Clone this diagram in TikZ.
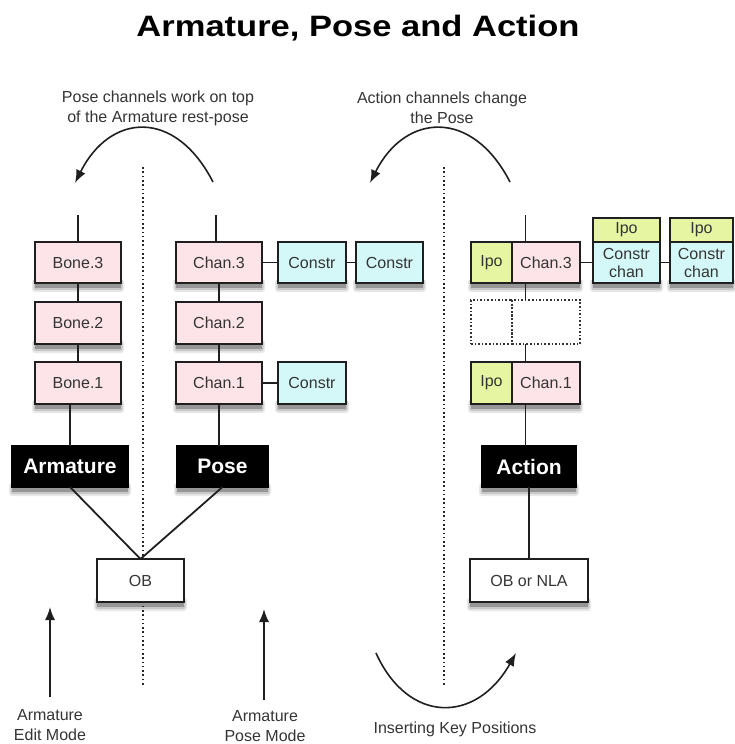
\documentclass[tikz,border=0pt]{standalone}
\usepackage{fontspec}
\setmainfont{Liberation Sans}
\newfontfamily\titlefont{Liberation Sans}[FakeStretch=1.17]
\usetikzlibrary{arrows.meta,fit}
\definecolor{chanpink}{RGB}{252,228,233}
\definecolor{constrcyan}{RGB}{212,248,248}
\definecolor{ipogreen}{RGB}{229,245,162}
\definecolor{inkgray}{RGB}{52,52,52}
\definecolor{shadefar}{RGB}{232,232,232}
\definecolor{shadenear}{RGB}{200,200,200}
\definecolor{shadecore}{RGB}{150,150,150}

\begin{document}
\begin{tikzpicture}[x=1pt,y=-1pt,
  every node/.style={inner sep=0pt, outer sep=0pt},
  labeltext/.style={text=inkgray, font=\fontsize{16}{20}\selectfont, align=center},
  cell/.style={draw=black!88, line width=2pt, labeltext, font=\fontsize{16}{18}\selectfont},
  pinkcell/.style={cell, fill=chanpink},
  cyancell/.style={cell, fill=constrcyan},
  ipocell/.style={cell, fill=ipogreen},
  plaincell/.style={cell, fill=white},
  blackcell/.style={draw=black, fill=black, line width=1.5pt, text=white,
      font=\bfseries\fontsize{21}{24}\selectfont},
  ghostcell/.style={draw=black!80, line width=1.7pt, dash pattern=on 1.6pt off 2pt},
  wire/.style={draw=black!88, line width=1.8pt},
  divider/.style={draw=black!85, line width=1.8pt, dash pattern=on 1.6pt off 2.7pt},
  arrow/.style={draw=black!88, line width=1.6pt, -{Latex[length=13pt,width=10pt]}},
]
\useasboundingbox (0,0) rectangle (734,744);

% soft drop shadow under a box given by its corners (left,top) and (right,bottom)
\newcommand{\boxshadow}[4]{%
  \fill[shadefar, rounded corners=3pt] (#1-3,#4-4) rectangle (#3+3,#4+9);
  \fill[shadenear, rounded corners=2pt] (#1-1.5,#4-4) rectangle (#3+1.5,#4+7);
  \fill[shadecore] (#1,#4-4) rectangle (#3,#4+5);}

\boxshadow{35}{242}{121}{283}
\boxshadow{35}{302}{121}{344}
\boxshadow{35}{362}{121}{404}
\boxshadow{12}{446}{128}{487}
\boxshadow{176}{242}{262}{283}
\boxshadow{176}{302}{262}{344}
\boxshadow{176}{362}{262}{404}
\boxshadow{278}{242}{346}{283}
\boxshadow{356}{242}{423}{283}
\boxshadow{278}{362}{346}{404}
\boxshadow{177}{446}{268}{487}
\boxshadow{97}{559}{184}{602}
\boxshadow{471}{242}{580}{283}
\boxshadow{471}{362}{580}{404}
\boxshadow{593}{218}{660}{283}
\boxshadow{670}{218}{733}{283}
\boxshadow{482}{446}{576}{487}
\boxshadow{470}{559}{588}{602}

% title
\node[anchor=base, font=\titlefont\bfseries\fontsize{29.5}{34}\selectfont] (title) at (358,36) {Armature, Pose and Action};

% mode dividers
\coordinate (d1t) at (143,167); \coordinate (d1b) at (143,685);
\coordinate (d2t) at (444,167); \coordinate (d2b) at (444,685);
\draw[divider] (d1t) -- (d1b);
\draw[divider] (d2t) -- (d2b);

% --- armature column ---
\node[pinkcell, minimum width=86, minimum height=41] (b3) at (78,262.5) {Bone.3};
\node[pinkcell, minimum width=86, minimum height=42] (b2) at (78,323) {Bone.2};
\node[pinkcell, minimum width=86, minimum height=42] (b1) at (78,383) {Bone.1};
\node[blackcell, minimum width=116, minimum height=41] (arm) at (70,466.5) {Armature};
\coordinate (btop) at (78,215);
\draw[wire] (btop) -- (b3.north);
\draw[wire] (b3) -- (b2);
\draw[wire] (b2) -- (b1);
\draw[wire] (b1.south -| arm.north) -- (arm.north);

% --- pose column ---
\node[pinkcell, minimum width=86, minimum height=41] (c3) at (219,262.5) {Chan.3};
\node[pinkcell, minimum width=86, minimum height=42] (c2) at (219,323) {Chan.2};
\node[pinkcell, minimum width=86, minimum height=42] (c1) at (219,383) {Chan.1};
\node[cyancell, minimum width=68, minimum height=41] (k3a) at (312,262.5) {Constr};
\node[cyancell, minimum width=67, minimum height=41] (k3b) at (389.5,262.5) {Constr};
\node[cyancell, minimum width=68, minimum height=42] (k1) at (312,383) {Constr};
\node[blackcell, minimum width=91, minimum height=41] (pose) at (222.5,466.5) {Pose};
\coordinate (ctop) at (216,215);
\draw[wire] (ctop) -- (ctop |- c3.north);
\draw[wire] (c3) -- (c2);
\draw[wire] (c2) -- (c1);
\draw[wire] (c1.south) -- (c1.south |- pose.north);
\draw[wire] (c3) -- (k3a);
\draw[wire] (k3a) -- (k3b);
\draw[wire] (c1) -- (k1);

% object
\node[plaincell, minimum width=87, minimum height=43] (ob) at (140.5,580.5) {OB};
\draw[wire] (arm.south) -- (ob.north);
\draw[wire] (pose.south) -- (ob.north);

% --- action column ---
\node[ipocell, minimum width=41, minimum height=41] (i3) at (491.5,262.5) {Ipo};
\node[pinkcell, minimum width=68, minimum height=41] (a3) at (546,262.5) {Chan.3};
\node[ghostcell, minimum width=41, minimum height=44] (gl) at (491.5,322) {};
\node[ghostcell, minimum width=68, minimum height=44] (gr) at (546,322) {};
\node[ipocell, minimum width=41, minimum height=42] (i1) at (491.5,383) {Ipo};
\node[pinkcell, minimum width=68, minimum height=42] (a1) at (546,383) {Chan.1};

\node[cyancell, minimum width=67, minimum height=41] (q1) at (626.5,262.5) {Constr\\chan};
\node[ipocell, minimum width=67, minimum height=24] (p1) at (626.5,230) {Ipo};
\node[cyancell, minimum width=63, minimum height=41] (q2) at (701.5,262.5) {Constr\\chan};
\node[ipocell, minimum width=63, minimum height=24] (p2) at (701.5,230) {Ipo};

\node[blackcell, minimum width=94, minimum height=41] (act) at (529,466.5) {Action};
\node[plaincell, minimum width=118, minimum height=43] (obn) at (529,580.5) {OB or NLA};

\node[fit=(i3)(a3)] (row3) {};
\node[fit=(i1)(a1)] (row1) {};
\node[fit=(gl)(gr)] (ghost) {};

\coordinate (atop) at (525.5,215);
\draw[wire] (atop) -- (row3.north);
\draw[wire] (row3) -- (ghost);
\draw[wire] (ghost) -- (row1);
\draw[wire] (row1.south) -- (row1.south |- act.north);
\draw[wire] (act) -- (obn);
\draw[wire] (a3) -- (q1);
\draw[wire] (q1) -- (q2);

% --- curved arrows and captions ---
\node[labeltext] (capL) at (158,108) {Pose channels work on top\\of the Armature rest-pose};
\node[labeltext] (capR) at (442,108) {Action channels change\\the Pose};
\coordinate (l0) at (213,182); \coordinate (l1) at (75,183);
\coordinate (r0) at (510,182); \coordinate (r1) at (370,183);
\draw[arrow] (l0) .. controls (175,108) and (110,113) .. (l1);
\draw[arrow] (r0) .. controls (472,108) and (405,113) .. (r1);

\coordinate (k0) at (376,653); \coordinate (k1e) at (516,653);
\draw[arrow] (k0) .. controls (408,724) and (476,724) .. (k1e);
\node[labeltext, anchor=base] (keys) at (455,733) {Inserting Key Positions};

% --- mode arrows ---
\coordinate (e0) at (50,697); \coordinate (e1) at (50,607);
\coordinate (m0) at (264,700); \coordinate (m1) at (264,609);
\draw[arrow] (e0) -- (e1);
\draw[arrow] (m0) -- (m1);
\node[labeltext] (editmode) at (50,725) {Armature\\Edit Mode};
\node[labeltext] (posemode) at (265,726) {Armature\\Pose Mode};
\end{tikzpicture}
\end{document}
